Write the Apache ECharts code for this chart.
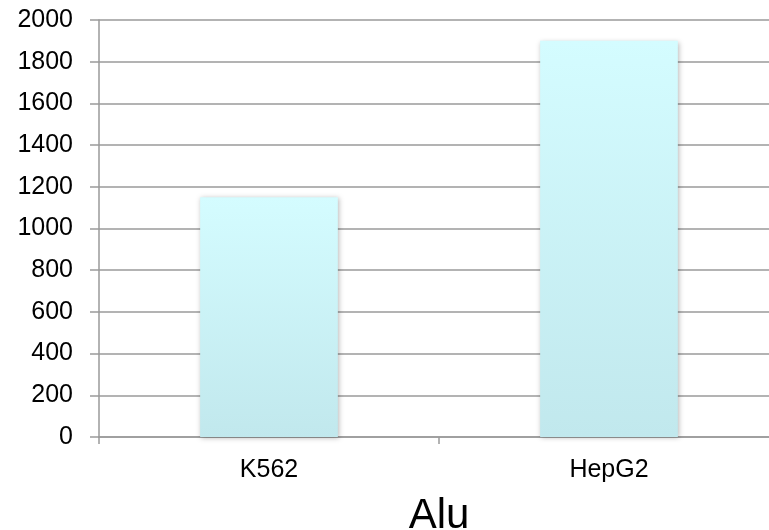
<!DOCTYPE html>
<html>
<head>
<meta charset="utf-8">
<script src="https://cdn.jsdelivr.net/npm/echarts@6/dist/echarts.min.js"></script>
<style>
  html, body { margin: 0; padding: 0; background: #fff; }
  #chart { width: 769px; height: 530px; }
</style>
</head>
<body>
<div id="chart"></div>
<script>
// Alu element counts per cell line
const categories = ['K562', 'HepG2'];
const aluCounts = [1150, 1900];
const axisTitle = 'Alu';

const chart = echarts.init(document.getElementById('chart'), null, { renderer: 'canvas' });

const fontFamily = '"Liberation Sans", Arial, Helvetica, sans-serif';
const lineGray = '#9a9a9a';

chart.setOption({
  animation: false,
  grid: {
    left: 99, top: 20, width: 680, bottom: 93,
    containLabel: false,
    outerBoundsMode: 'none'
  },
  xAxis: {
    type: 'category',
    data: categories,
    name: axisTitle,
    nameLocation: 'middle',
    nameGap: 58,
    nameTextStyle: { fontFamily, fontSize: 42, color: '#000' },
    axisLine: { lineStyle: { color: lineGray, width: 1.5 } },
    axisTick: { show: true, length: 7, lineStyle: { color: lineGray, width: 1.5 } },
    axisLabel: { fontFamily, fontSize: 25, color: '#000', margin: 21 }
  },
  yAxis: {
    type: 'value',
    min: 0,
    max: 2000,
    interval: 200,
    axisLine: { show: true, lineStyle: { color: lineGray, width: 1.5 } },
    axisTick: { show: true, length: 9, lineStyle: { color: lineGray, width: 1.5 } },
    axisLabel: {
      fontFamily, fontSize: 25, color: '#000', margin: 26,
      formatter: (v) => String(v)
    },
    splitLine: { lineStyle: { color: lineGray, width: 1.5 } }
  },
  series: [{
    type: 'bar',
    data: aluCounts,
    barWidth: '40.5%',
    itemStyle: {
      color: new echarts.graphic.LinearGradient(0, 0, 0, 1, [
        { offset: 0, color: '#d4fcff' },
        { offset: 1, color: '#c1e8ed' }
      ]),
      shadowBlur: 5,
      shadowColor: 'rgba(0,0,0,0.28)',
      shadowOffsetX: 1,
      shadowOffsetY: 1
    }
  }]
});
</script>
</body>
</html>
